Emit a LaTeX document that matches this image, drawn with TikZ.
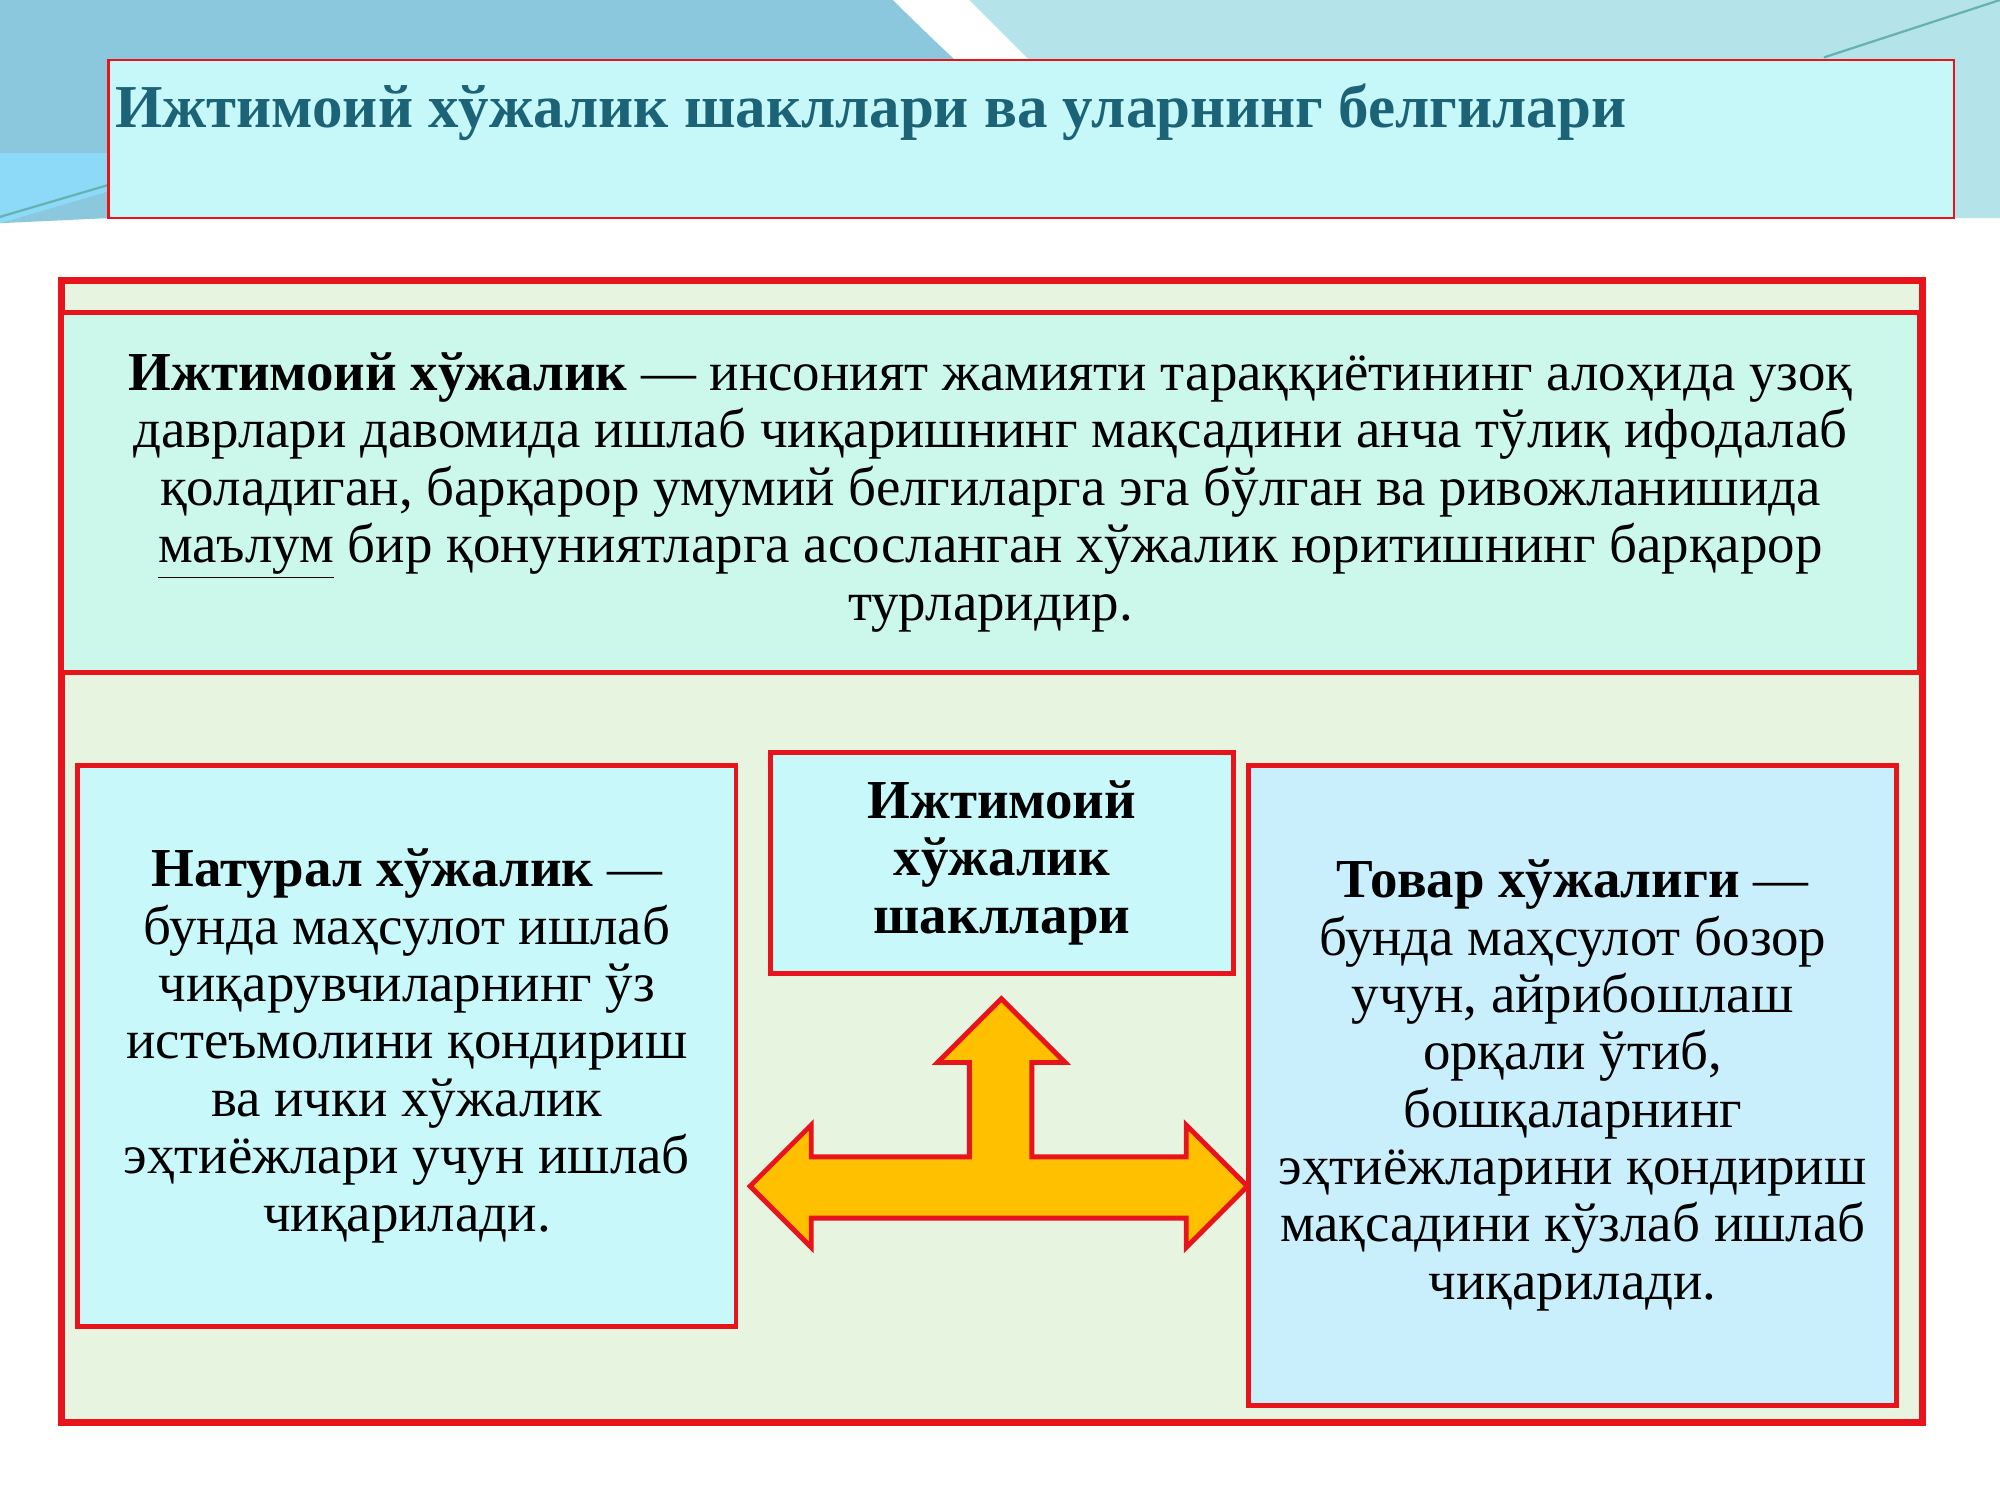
\documentclass[tikz,border=0pt]{standalone}
\usepackage{fontspec}
\setmainfont{Liberation Serif}
\definecolor{titlecol}{HTML}{1C6378}
\definecolor{boxred}{HTML}{E8141C}
\definecolor{titlefill}{HTML}{C6F8F9}
\definecolor{greenfill}{HTML}{E6F4E0}
\definecolor{mintfill}{HTML}{CCF8EC}
\definecolor{cyanfill}{HTML}{C8F8FA}
\definecolor{skyfill}{HTML}{C9EEFC}
\definecolor{arrowfill}{HTML}{FFC000}
\definecolor{bgblue}{HTML}{8CC8DD}
\definecolor{bglight}{HTML}{B4E4EA}
\tikzset{
  box/.style={draw=boxred, line width=2.2pt},
  bodytext/.style={font=\fontsize{24.5}{25.6}\selectfont, align=center, text=black}
}
\begin{document}
\begin{tikzpicture}[x=0.02cm, y=-0.02cm]
  \useasboundingbox (0,0) rectangle (1568,1176);
  \fill[white] (0,0) rectangle (1568,1176);
  % Hintergrund oben
  \fill[bgblue] (0,0) -- (700,0) .. controls (760,60) and (830,120) .. (880,171) -- (85,171) -- (0,175) -- cycle;
  \fill[bglight] (760,0) -- (1568,0) -- (1568,171) -- (1532,171) -- (930,171) .. controls (870,110) and (810,50) .. cycle;
  \fill[cyan!45] (0,120) -- (85,120) -- (85,150) -- (0,175) -- cycle;
  \draw[teal!60, line width=1pt] (0,170) -- (85,145);
  \draw[teal!60, line width=1pt] (1430,45) -- (1568,0);

  % Titel
  \draw[box, line width=1pt, fill=titlefill] (85,47) rectangle coordinate (title) (1532,171);
  \node[anchor=west, text=titlecol, font=\bfseries\fontsize{27.2}{32}\selectfont] (titletext) at (84,88) {Ижтимоий хўжалик шакллари ва уларнинг белгилари};

  % Rahmen
  \draw[box, line width=3pt, fill=greenfill] (48,220) rectangle (1507,1115);
  \draw[box, fill=mintfill] (48,245) rectangle coordinate (defbox) (1505,527);
  \node[bodytext] (deftext) at (defbox)
    {\textbf{Ижтимоий хўжалик} — инсоният жамияти тараққиётининг алоҳида узоқ\\
     даврлари давомида ишлаб чиқаришнинг мақсадини анча тўлиқ ифодалаб\\
     қоладиган, барқарор умумий белгиларга эга бўлган ва ривожланишида\\
     \underline{маълум} бир қонуниятларга асосланган хўжалик юритишнинг барқарор\\
     турларидир.};

  % Kaesten
  \draw[box, fill=cyanfill] (61,600) rectangle coordinate (natural) (577,1040);
  \node[bodytext] (naturaltext) at (natural)
    {\textbf{Натурал хўжалик} —\\ бунда маҳсулот ишлаб\\ чиқарувчиларнинг ўз\\
     истеъмолини қондириш\\ ва ички хўжалик\\ эҳтиёжлари учун ишлаб\\ чиқарилади.};
  \draw[box, fill=cyanfill] (604,590) rectangle coordinate (forms) (967,763);
  \node[bodytext, font=\bfseries\fontsize{24.5}{25.6}\selectfont] (formstext) at (forms)
    {Ижтимоий\\ хўжалик\\ шакллари};
  \draw[box, fill=skyfill] (979,600) rectangle coordinate (commodity) (1487,1102);
  \node[bodytext] (commoditytext) at (commodity)
    {\textbf{Товар хўжалиги} —\\ бунда маҳсулот бозор\\ учун, айрибошлаш\\ орқали ўтиб,\\
     бошқаларнинг\\ эҳтиёжларини қондириш\\ мақсадини кўзлаб ишлаб\\ чиқарилади.};

  % Pfeil
  \draw[boxred, fill=arrowfill, line width=2.2pt, line join=miter]
    (588,930) -- (636,882) -- (636,907) -- (760,907) -- (760,833) -- (735,833) -- (785,783)
    -- (835,833) -- (809,833) -- (809,907) -- (930,907) -- (930,882) -- (978,930)
    -- (930,978) -- (930,955) -- (636,955) -- (636,978) -- cycle;
\end{tikzpicture}
\end{document}
